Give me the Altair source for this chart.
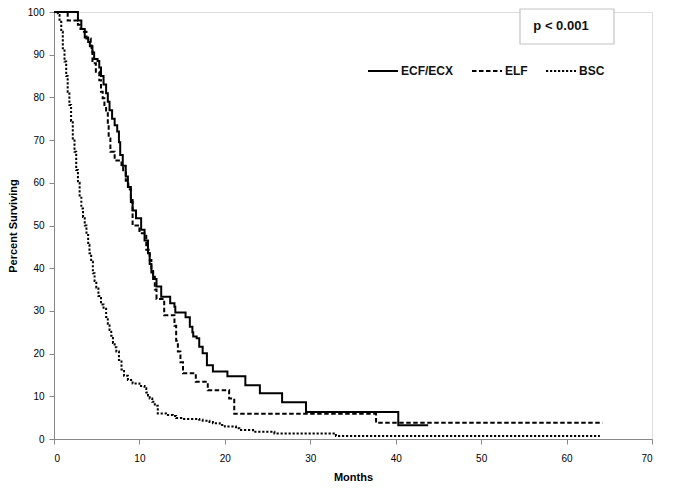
import altair as alt
import pandas as pd

# ---- data (months, percent surviving) ----
groups = ["ECF/ECX", "ELF", "BSC"]

ecf_months = [0, 2.8, 3.2, 3.6, 4.0, 4.2, 4.5, 4.7, 5.1, 5.3, 5.5, 5.8, 6.1, 6.3, 6.5, 6.8,
              7.1, 7.4, 7.6, 7.75, 8.05, 8.4, 8.65, 9.0, 9.2, 9.6, 10.2, 10.6, 11.0, 11.2,
              11.4, 11.6, 12.0, 12.55, 13.6, 14.1, 14.2, 15.4, 15.9, 16.2, 16.3, 16.7, 17.0,
              17.4, 17.9, 18.6, 20.3, 22.4, 24.1, 26.7, 29.5, 40.3, 43.8]
ecf_pct = [100, 98, 96, 94, 93, 92, 90.5, 89, 88.5, 87, 85, 83, 81, 79, 77, 75,
           73.5, 72, 69.5, 66.5, 64, 61.5, 59, 56, 53.5, 51.7, 49, 46.5, 43.5, 41,
           39, 37.5, 35.7, 33.3, 31.8, 31, 29.6, 28.5, 26.3, 25, 24, 23.6, 21.6,
           20.1, 17.3, 15.8, 14.7, 12.6, 10.7, 8.6, 6.3, 3.2, 3.2]

elf_months = [0, 1.6, 2.8, 3.1, 3.5, 3.8, 4.3, 4.4, 4.5, 4.9, 5.3, 5.5, 5.7, 5.9, 6.1, 6.3,
              6.4, 6.6, 7.1, 7.9, 8.1, 8.4, 8.7, 9.0, 9.2, 10.0, 10.8, 11.2, 11.4, 11.6,
              11.8, 12.0, 12.9, 14.1, 14.3, 14.5, 14.8, 15.1, 16.6, 18.0, 20.5, 21.1, 37.7, 64.2]
elf_pct = [100, 98, 97, 96, 95.4, 93.8, 92.7, 91, 88, 86, 84, 81.3, 79.8, 78.2, 76.7, 73.5,
           70.4, 67.3, 65.2, 63.8, 62.5, 60.5, 58.5, 55.5, 50, 48.2, 44.3, 41.9, 40, 38,
           35, 32.8, 29, 26.5, 23, 20.5, 18, 15.4, 13.4, 11.4, 9.5, 5.9, 3.8, 3.8]

bsc_months = [0, 0.45, 0.65, 0.85, 1.03, 1.23, 1.43, 1.6, 1.8, 2.0, 2.2, 2.4, 2.6, 2.8, 3.0,
              3.2, 3.4, 3.6, 3.8, 4.0, 4.15, 4.35, 4.55, 4.75, 4.95, 5.2, 5.5, 5.8, 6.1,
              6.3, 6.5, 6.7, 6.9, 7.1, 7.3, 7.6, 7.9, 8.2, 8.65, 9.2, 10.0, 10.6, 10.8,
              11.0, 11.2, 11.5, 11.8, 12.15, 13.1, 13.9, 14.3, 14.9, 17.0, 17.4, 18.2,
              18.6, 19.4, 20.0, 21.3, 21.7, 23.3, 25.8, 33.0, 63.9]
bsc_pct = [100, 99.3, 97.7, 95.4, 91.5, 88.4, 85, 81.3, 78.2, 74.5, 70.4, 67.3, 63, 60, 57,
           54, 52, 50, 47.8, 45.5, 43.5, 41.5, 38.8, 37, 35.5, 33.5, 31.5, 30.5, 28.6,
           27, 25.5, 24.2, 22.5, 21.5, 20.5, 18.5, 16.3, 14.8, 13.8, 13, 12.4, 11.9, 10.9,
           10.2, 9.5, 8.7, 7.8, 6.0, 5.6, 5.4, 4.9, 4.7, 4.5, 4.3, 4.0,
           3.7, 3.3, 2.9, 2.5, 2.1, 1.7, 1.3, 0.7, 0.7]

x_ticks = [0, 10, 20, 30, 40, 50, 60, 70]
y_ticks = [0, 10, 20, 30, 40, 50, 60, 70, 80, 90, 100]
p_label = ["p < 0.001"]

# ---- build table ----
rows = []
for g, ms, ps in zip(groups, [ecf_months, elf_months, bsc_months], [ecf_pct, elf_pct, bsc_pct]):
    for m, p in zip(ms, ps):
        rows.append({"Months": m, "Percent": p, "Group": g})
df = pd.DataFrame(rows)

FONT = "Liberation Sans"

lines = alt.Chart(df).mark_line(
    interpolate="step-after", color="black", strokeWidth=2
).encode(
    x=alt.X("Months:Q",
            scale=alt.Scale(domain=[0, 70], nice=False, zero=False),
            axis=alt.Axis(values=x_ticks, title="Months", grid=False,
                          labelPadding=9, titlePadding=8)),
    y=alt.Y("Percent:Q",
            scale=alt.Scale(domain=[0, 100], nice=False),
            axis=alt.Axis(values=y_ticks, title="Percent Surviving", grid=False,
                          labelPadding=5, titlePadding=9)),
    strokeDash=alt.StrokeDash(
        "Group:N",
        sort=groups,
        scale=alt.Scale(domain=groups, range=[[1, 0], [4.5, 2.5], [2.2, 1.8]]),
        legend=alt.Legend(
            title=None, orient="none", direction="horizontal",
            legendX=313, legendY=43,
            symbolType="stroke", symbolSize=900, symbolStrokeWidth=2,
            symbolStrokeColor="black",
            labelFont=FONT, labelFontSize=12, labelFontWeight="bold",
            labelColor="#111", labelOffset=2, columnPadding=14, padding=0,
        ),
    ),
)

pdf = pd.DataFrame({"label": p_label})
box = alt.Chart(pdf).mark_rect(fill="white", stroke="#c4c4c4", strokeWidth=1.2).encode(
    x=alt.value(466), x2=alt.value(560), y=alt.value(-3), y2=alt.value(32)
)
ptext = alt.Chart(pdf).mark_text(
    font=FONT, fontSize=13, fontWeight="bold", color="#111", align="center", baseline="middle"
).encode(x=alt.value(507), y=alt.value(14), text="label:N")

chart = alt.layer(lines, box, ptext).properties(
    width=598, height=427,
    autosize=alt.AutoSizeParams(type="none"),
    padding={"left": 46, "top": 4, "right": 36, "bottom": 49},
).configure_view(
    stroke=None
).configure_axis(
    domainColor="#555", domainWidth=1.5, tickColor="#555", tickWidth=1.2, tickSize=5,
    labelFont=FONT, labelFontSize=12, labelColor="#333",
    titleFont=FONT, titleFontSize=12, titleFontWeight="bold", titleColor="#111",
).configure(background="white")

chart.save("out.html", embed_options={"renderer": "svg", "actions": False})
